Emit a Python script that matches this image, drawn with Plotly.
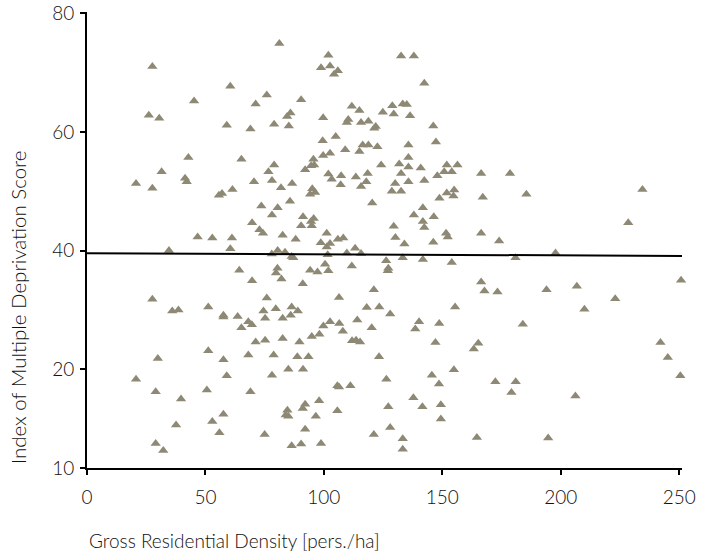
import plotly.graph_objects as go

# Gross Residential Density [pers./ha]
density = [
    27.6, 26.1, 30.5, 20.7, 27.6, 31.5, 34.6, 27.6, 36.0, 38.6, 29.9, 20.7, 29.0, 37.6, 29.0, 32.2,
    81.2, 98.8, 60.5, 45.2, 75.9, 71.2, 90.4, 85.9, 84.5, 99.7, 59.0, 69.0, 79.0, 85.2, 99.5, 42.8,
    65.2, 95.6, 99.7, 79.0, 76.6, 95.9, 92.1, 41.4, 42.1, 55.7, 57.0, 61.4, 70.5, 78.1, 81.9, 86.6,
    95.1, 96.3, 94.2, 73.6, 80.5, 85.7, 78.1, 91.2, 95.7, 94.6, 90.4, 94.9, 69.7, 72.8, 74.3, 82.6,
    88.1, 98.7, 46.7, 52.9, 61.2, 60.5, 78.0, 80.5, 83.6, 86.4, 87.1, 64.3, 69.7, 80.4, 79.8, 82.1,
    91.1, 94.2, 97.3, 100.5, 75.9, 51.2, 79.7, 86.4, 57.6, 57.6, 63.6, 74.5, 89.0, 75.2, 68.1, 69.6,
    65.2, 82.6, 86.0, 99.8, 98.1, 94.9, 71.2, 75.2, 82.6, 89.7, 51.2, 57.6, 68.1, 78.8, 88.8, 93.5,
    59.0, 78.1, 85.0, 91.2, 50.6, 69.0, 39.7, 98.0, 92.1, 91.1, 84.6, 85.0, 83.9, 96.6, 57.6, 52.9,
    55.9, 75.0, 92.1, 86.4, 90.4, 98.8, 132.6, 138.0, 101.9, 102.6, 105.9, 104.3, 142.4, 111.8, 115.0, 110.3,
    109.7, 115.7, 118.8, 121.3, 121.9, 124.9, 128.9, 129.5, 133.3, 135.0, 136.4, 146.2, 105.0, 109.0, 102.6, 116.4,
    118.8, 115.0, 122.6, 135.7, 147.3, 135.7, 101.9, 103.3, 107.3, 107.1, 113.5, 118.5, 117.9, 115.7, 124.2, 131.8,
    135.7, 132.6, 140.9, 151.9, 150.8, 154.0, 156.4, 147.9, 142.4, 130.1, 135.7, 128.7, 132.6, 151.9, 155.0, 154.7,
    148.8, 120.4, 141.8, 138.0, 146.4, 141.8, 142.4, 129.5, 101.2, 151.6, 152.3, 130.2, 134.0, 146.2, 102.6, 101.2,
    105.9, 108.2, 113.2, 109.7, 115.7, 101.6, 126.3, 133.3, 141.8, 154.0, 101.9, 111.8, 127.2, 127.0, 121.1, 106.4,
    118.1, 123.4, 155.4, 128.0, 102.6, 106.5, 108.0, 114.1, 120.2, 111.9, 113.6, 115.3, 140.2, 138.6, 148.7, 147.1,
    163.3, 165.2, 123.3, 154.9, 145.6, 148.6, 126.4, 105.7, 106.4, 111.2, 137.8, 141.6, 149.4, 127.2, 105.7, 149.4,
    128.0, 121.1, 133.3, 133.3, 164.6, 166.4, 178.6, 167.1, 185.5, 234.5, 166.4, 174.0, 228.5, 180.9, 197.8, 166.4,
    250.8, 167.8, 173.3, 194.0, 206.8, 223.0, 210.0, 184.0, 242.1, 245.2, 250.5, 172.4, 181.0, 179.2, 206.2, 194.7,
    94.6,
]

# Index of Multiple Deprivation Score
imd_score = [
    71.0, 62.8, 62.3, 51.3, 50.5, 53.3, 40.0, 31.8, 29.8, 30.0, 21.8, 18.3, 16.2, 10.6, 7.5, 6.3,
    74.9, 70.8, 67.7, 65.2, 66.2, 64.7, 65.4, 63.2, 62.6, 62.4, 61.1, 60.5, 61.3, 61.0, 58.5, 55.7,
    55.4, 55.4, 56.0, 54.4, 53.3, 54.4, 53.6, 52.2, 51.6, 49.3, 49.6, 50.3, 51.6, 51.8, 50.6, 51.3,
    50.4, 49.8, 49.5, 47.5, 47.2, 48.3, 46.0, 45.7, 45.4, 44.9, 44.2, 44.2, 44.7, 43.5, 42.9, 42.6,
    41.9, 41.3, 42.3, 42.1, 42.1, 40.3, 39.4, 40.0, 39.7, 39.0, 38.8, 36.7, 34.9, 37.0, 36.2, 35.2,
    34.4, 36.7, 36.4, 37.7, 32.0, 30.5, 30.2, 30.5, 29.1, 28.8, 28.9, 29.8, 29.8, 28.6, 28.0, 27.5,
    27.0, 28.6, 29.1, 27.3, 25.9, 25.5, 24.6, 24.9, 25.2, 24.6, 23.1, 21.6, 22.4, 22.4, 22.1, 22.1,
    18.9, 19.0, 20.0, 20.0, 16.5, 16.2, 15.0, 14.7, 14.1, 13.4, 13.1, 12.1, 12.3, 12.1, 12.4, 11.2,
    9.3, 9.0, 9.9, 7.1, 7.4, 7.5, 72.8, 72.8, 72.9, 71.1, 70.3, 69.7, 68.2, 64.3, 63.6, 62.1,
    61.6, 61.6, 61.8, 60.6, 60.9, 63.3, 64.4, 63.0, 64.7, 64.6, 62.7, 61.0, 59.2, 57.0, 56.4, 57.8,
    57.8, 56.7, 57.5, 57.8, 58.3, 55.7, 52.9, 52.0, 52.6, 51.1, 52.4, 53.0, 51.6, 50.8, 54.4, 54.6,
    54.1, 53.0, 53.9, 54.4, 53.3, 53.3, 54.4, 52.6, 51.8, 51.3, 51.6, 50.0, 50.0, 49.7, 50.2, 49.2,
    48.8, 48.0, 47.2, 46.0, 45.7, 44.9, 43.9, 44.1, 42.9, 42.9, 42.3, 42.2, 41.1, 41.4, 41.2, 40.6,
    41.9, 42.1, 40.4, 39.6, 39.5, 39.3, 38.3, 38.8, 38.5, 38.0, 36.6, 37.4, 37.0, 36.6, 33.4, 32.1,
    30.4, 30.5, 30.5, 29.3, 28.0, 27.7, 26.4, 28.3, 27.0, 24.8, 24.9, 24.6, 28.0, 26.8, 27.7, 24.5,
    23.4, 24.4, 22.1, 19.9, 19.0, 17.5, 18.3, 17.2, 17.0, 17.2, 15.2, 13.7, 14.0, 13.7, 13.0, 11.6,
    10.2, 9.0, 8.3, 6.5, 8.5, 53.0, 53.0, 49.0, 49.5, 50.3, 42.9, 41.6, 44.7, 38.8, 39.6, 34.7,
    35.0, 33.2, 33.0, 33.4, 34.0, 31.9, 30.1, 27.6, 24.5, 22.0, 18.9, 17.9, 17.9, 16.1, 15.5, 8.4,
    54.3,
]

# Linear trend line end points
trend_x = [0, 251.2]
trend_y = [39.55, 39.1]

# Axis ticks
x_range = [0, 251.2]
x_ticks = [0, 50, 100, 150, 200, 250]
y_range = [3.36, 80.2]
y_tickvals = [3.36, 20, 40, 60, 80]
y_ticktext = ["10", "20", "40", "60", "80"]

FONT = "Lato, 'Open Sans', sans-serif"
MARK = "#8e8974"
TXT = "#111111"

fig = go.Figure()
fig.add_trace(go.Scatter(
    x=density, y=imd_score, mode="markers",
    marker=dict(symbol="triangle-up", size=9, color=MARK, line=dict(width=0)),
    cliponaxis=False, showlegend=False, hoverinfo="x+y",
))
fig.add_trace(go.Scatter(
    x=trend_x, y=trend_y, mode="lines",
    line=dict(color="black", width=2),
    cliponaxis=False, showlegend=False, hoverinfo="skip",
))

axis_common = dict(
    showgrid=False, zeroline=False, showline=True, linecolor="black", linewidth=2,
    ticks="outside", ticklen=5, tickwidth=1.5, tickcolor="black", automargin=False,
    tickfont=dict(family=FONT, size=19, color=TXT, weight=300),
)
fig.update_xaxes(range=x_range, tickvals=x_ticks, ticklabelstandoff=6, **axis_common)
fig.update_yaxes(range=y_range, tickvals=y_tickvals, ticktext=y_ticktext,
                 ticklabelstandoff=2, **axis_common)

fig.add_annotation(
    text="Gross Residential Density [pers./ha]", xref="paper", yref="paper",
    x=0.0, y=-0.158, xanchor="left", yanchor="middle", showarrow=False,
    font=dict(family=FONT, size=19, color=TXT, weight=300),
)
fig.add_annotation(
    text="Index of Multiple Deprivation Score", xref="paper", yref="paper",
    x=-0.1166, y=0.003, xanchor="center", yanchor="bottom", textangle=-90, showarrow=False,
    font=dict(family=FONT, size=20.5, color=TXT, weight=300),
)

fig.update_layout(
    width=703, height=554,
    margin=dict(l=87, r=21, t=12, b=86),
    plot_bgcolor="white", paper_bgcolor="white",
    font=dict(family=FONT),
)

fig.write_html(
    "out.html",
    config={"displayModeBar": False},
    post_script="document.body.style.margin='0';document.body.style.overflow='hidden';",
)
